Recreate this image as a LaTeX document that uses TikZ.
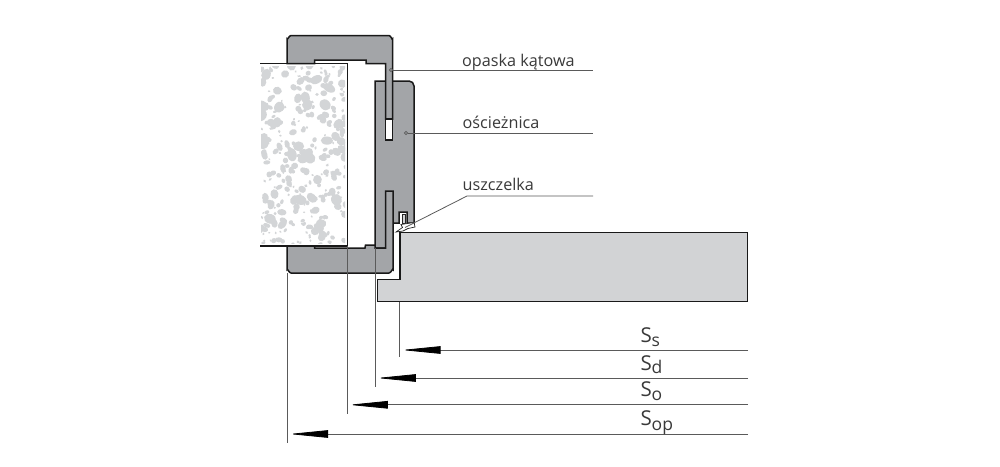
\documentclass[tikz,border=0pt]{standalone}
\usepackage{fontspec}
\setmainfont{Open Sans}
\usetikzlibrary{arrows.meta}
\definecolor{casegray}{HTML}{A3A5A8}
\definecolor{leafgray}{HTML}{D2D3D5}
\definecolor{blobgray}{HTML}{D3D5D7}
\definecolor{inkgray}{HTML}{3A3A3A}
\definecolor{leadgray}{HTML}{5A5A5A}
\tikzset{
  outline/.style={draw=black!90,line width=1.5pt,line join=miter},
  casing/.style={outline,fill=casegray},
  leader/.style={draw=leadgray,line width=0.8pt},
  witness/.style={draw=leadgray,line width=0.8pt},
  dimline/.style={draw=leadgray,line width=0.8pt,-{Triangle[length=39pt,width=7.5pt,black]}},
  lab/.style={anchor=base west,inner sep=0pt,text=inkgray,font=\fontsize{16.2}{18}\selectfont},
  sym/.style={anchor=base west,inner sep=0pt,text=inkgray,font=\fontsize{20.5}{24}\selectfont},
  sub/.style={anchor=base west,inner sep=0pt,text=inkgray,font=\fontsize{17.5}{20}\selectfont},
  dot/.style={circle,draw=leadgray,line width=0.7pt,fill=casegray,inner sep=0pt,minimum size=3.2pt},
}
\begin{document}
\begin{tikzpicture}[x=1pt,y=-1pt]
\useasboundingbox (0,0) rectangle (1000,466);
\fill[white] (0,0) rectangle (1000,466);
% door core with speckles
\begin{scope}
\clip (261,66) rectangle (345,243);
\pgfmathsetseed{4711}
\foreach \i in {1,...,340}{
  \pgfmathsetmacro{\bx}{260+rnd*87}
  \pgfmathsetmacro{\by}{65+rnd*180}
  \pgfmathsetmacro{\ba}{1.2+rnd*rnd*6}
  \pgfmathsetmacro{\bb}{\ba*(0.6+0.35*rnd)}
  \pgfmathsetmacro{\br}{rnd*180}
  \fill[blobgray,rotate around={\br:(\bx,\by)}] (\bx,\by) ellipse[x radius=\ba pt,y radius=\bb pt];
}
\end{scope}
\draw[outline] (260,63.5) -- (347.5,63.5) -- (347.5,246) -- (260,246);
% frame
\path[casing]
  (375,248) -- (375,81) -- (409,81) to[out=0,in=90] (414,86) -- (414,223) -- (407,223) -- (407,212) -- (399,212) -- (399,223) -- (393,223) -- (393,248) -- cycle;
% leaf
\path[outline,fill=leafgray] (400,232.5) -- (747.5,232.5) -- (747.5,301.5) -- (377.5,301.5) -- (377.5,279.5) -- (400,279.5) -- cycle;
% upper casing
\path[casing] (287,63.5) -- (287,39) to[out=-90,in=180] (291,35.5) -- (389,35.5) to[out=0,in=-90] (392.5,39) -- (392.5,119) -- (385.5,119) -- (385.5,63.5) -- (366,63.5) -- (366,60) -- (314.5,60) -- (314.5,63.5) -- cycle;
\path[outline,fill=white] (385.5,119) rectangle (392.5,140);
% lower casing
\path[casing] (287,246) -- (314.5,246) -- (314.5,248) -- (365,248) -- (365.5,245) -- (375,245) -- (375,248) -- (385.5,248) -- (385.5,191) -- (393,191) -- (393,269.5) to[out=90,in=0] (389,273) -- (291,273) to[out=180,in=90] (287,269.5) -- cycle;
% seal
\path[draw=black!85,line width=0.7pt,fill=leafgray] (402,214) rectangle (405,223);
\path[draw=black!85,line width=0.7pt,fill=white] (396,232) -- (402.5,227.5) -- (401,224.5) -- (414,222.5) -- (415,227) -- (408,228.5) -- (403,231) -- cycle;
% witness lines
\coordinate (wop0) at (287.3,273);
\coordinate (wop1) at (287.3,443);
\coordinate (wo0) at (347.4,246);
\coordinate (wo1) at (347.4,414);
\coordinate (wd0) at (375.2,248);
\coordinate (wd1) at (375.2,387);
\coordinate (ws0) at (399.8,301.5);
\coordinate (ws1) at (399.8,357);
\draw[witness] (wop0) -- (wop1);
\draw[witness] (wo0) -- (wo1);
\draw[witness] (wd0) -- (wd1);
\draw[witness] (ws0) -- (ws1);
% dimension lines
\coordinate (ssR) at (748,350); \coordinate (ssT) at (401.5,350);
\coordinate (sdR) at (748,378); \coordinate (sdT) at (376.8,378);
\coordinate (soR) at (748,404.8); \coordinate (soT) at (348.8,404.8);
\coordinate (sopR) at (748,434); \coordinate (sopT) at (289,434);
\draw[dimline] (ssR) -- (ssT);
\draw[dimline] (sdR) -- (sdT);
\draw[dimline] (soR) -- (soT);
\draw[dimline] (sopR) -- (sopT);
% dimension labels
\node[sym] (ss) at (640.5,342) {S};
\node[sub] (sss) at (651.5,346.7) {s};
\node[sym] (sd) at (640.5,370) {S};
\node[sub] (sdd) at (651.5,373.5) {d};
\node[sym] (so) at (640.5,396.5) {S};
\node[sub] (soo) at (651.5,400.5) {o};
\node[sym] (sop) at (640.5,425.5) {S};
\node[sub] (sopp) at (651.5,430) {op};
% leaders
\node[lab] (t1) at (462,66.5) {opaska kątowa};
\node[lab] (t2) at (462.5,128.5) {ościeżnica};
\node[lab] (t3) at (462.5,190) {uszczelka};
\node[dot] (d1) at (391,70) {};
\node[dot] (d2) at (406,133) {};
\coordinate (e1) at (593,70);
\coordinate (e2) at (593,133);
\coordinate (e3) at (593,196);
\coordinate (k3) at (467,196);
\coordinate (s3) at (405,227.5);
\draw[leader] (d1) -- (e1);
\draw[leader] (d2) -- (e2);
\draw[leader] (s3) -- (k3) -- (e3);
\end{tikzpicture}
\end{document}
